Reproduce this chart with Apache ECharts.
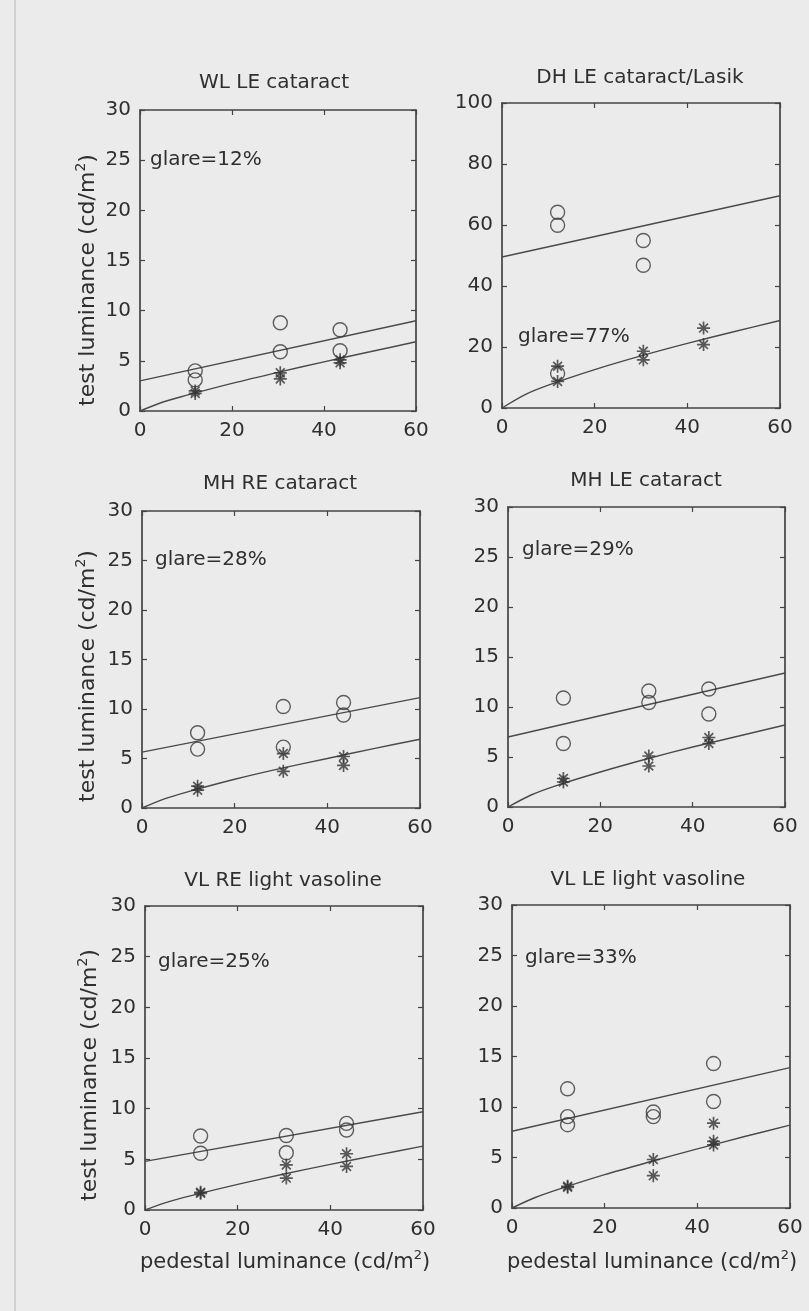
<!DOCTYPE html>
<html>
<head>
<meta charset="utf-8">
<script src="https://cdn.jsdelivr.net/npm/echarts@6/dist/echarts.min.js"></script>
<style>
html,body{margin:0;padding:0;background:#ebebeb;}
#chart{width:809px;height:1311px;}
</style>
</head>
<body>
<div id="chart"></div>
<script>
// ---------- data ----------
const panelTitles = ['WL LE cataract', 'DH LE cataract/Lasik', 'MH RE cataract', 'MH LE cataract', 'VL RE light vasoline', 'VL LE light vasoline'];
const glareLabels = ['glare=12%', 'glare=77%', 'glare=28%', 'glare=29%', 'glare=25%', 'glare=33%'];
const xTicks = [0, 20, 40, 60];
const yMax = [30, 100, 30, 30, 30, 30];
const yStep = [5, 20, 5, 5, 5, 5];

const fitX = [0, 5, 10, 20, 30, 40, 50, 60];
const lineX = [0, 60];

// circles: with glare ; stars: without glare
const wlCircles = [[12, 4.0], [12, 3.1], [30.5, 8.8], [30.5, 5.9], [43.5, 8.1], [43.5, 6.0]];
const wlStars = [[12, 1.75], [12, 2.0], [30.5, 3.8], [30.5, 3.2], [43.5, 5.1], [43.5, 4.8]];
const wlGlareFit = [3.0, 9.0];
const wlFit = [0, 0.9, 1.55, 2.75, 3.85, 4.9, 5.9, 6.9];

const dhCircles = [[12, 64.2], [12, 59.9], [30.5, 54.9], [30.5, 46.8], [12, 11.3]];
const dhStars = [[12, 13.7], [12, 8.7], [30.5, 18.6], [30.5, 15.8], [43.5, 26.2], [43.5, 20.8]];
const dhGlareFit = [49.5, 69.6];
const dhFit = [0, 4.4, 7.5, 12.6, 17.1, 21.2, 25.0, 28.7];

const mhReCircles = [[12, 7.6], [12, 5.95], [30.5, 10.25], [30.5, 6.15], [43.5, 10.65], [43.5, 9.4]];
const mhReStars = [[12, 2.2], [12, 1.8], [30.5, 5.5], [30.5, 3.7], [43.5, 5.2], [43.5, 4.3]];
const mhReGlareFit = [5.65, 11.15];
const mhReFit = [0, 0.95, 1.65, 2.9, 4.0, 5.0, 6.0, 6.95];

const mhLeCircles = [[12, 10.9], [12, 6.35], [30.5, 11.6], [30.5, 10.45], [43.5, 11.8], [43.5, 9.3]];
const mhLeStars = [[12, 2.85], [12, 2.5], [30.5, 5.1], [30.5, 4.1], [43.5, 6.95], [43.5, 6.35]];
const mhLeGlareFit = [7.0, 13.4];
const mhLeFit = [0, 1.2, 2.07, 3.5, 4.8, 6.0, 7.1, 8.2];

const vlReCircles = [[12, 7.3], [12, 5.6], [30.5, 7.35], [30.5, 5.65], [43.5, 8.55], [43.5, 7.9]];
const vlReStars = [[12, 1.65], [12, 1.75], [30.5, 4.45], [30.5, 3.15], [43.5, 5.55], [43.5, 4.3]];
const vlReGlareFit = [4.8, 9.7];
const vlReFit = [0, 0.8, 1.42, 2.53, 3.55, 4.5, 5.42, 6.3];

const vlLeCircles = [[12, 11.8], [12, 9.05], [12, 8.25], [30.5, 9.5], [30.5, 9.05], [43.5, 14.3], [43.5, 10.55]];
const vlLeStars = [[12, 2.05], [12, 2.15], [30.5, 4.8], [30.5, 3.2], [43.5, 8.4], [43.5, 6.6], [43.5, 6.25]];
const vlLeGlareFit = [7.6, 13.9];
const vlLeFit = [0, 1.04, 1.85, 3.3, 4.6, 5.85, 7.05, 8.2];

const circlesAll = [wlCircles, dhCircles, mhReCircles, mhLeCircles, vlReCircles, vlLeCircles];
const starsAll = [wlStars, dhStars, mhReStars, mhLeStars, vlReStars, vlLeStars];
const glareFitAll = [wlGlareFit, dhGlareFit, mhReGlareFit, mhLeGlareFit, vlReGlareFit, vlLeGlareFit];
const fitAll = [wlFit, dhFit, mhReFit, mhLeFit, vlReFit, vlLeFit];

// ---------- layout ----------
const grids = [
  {left: 140, top: 110, width: 276, height: 301},
  {left: 502, top: 103, width: 278, height: 305},
  {left: 142, top: 511, width: 278, height: 297},
  {left: 508, top: 507, width: 277, height: 300},
  {left: 145, top: 906, width: 278, height: 304},
  {left: 512, top: 905, width: 278, height: 303}
];
const titlePos = [[274, 83], [640, 78], [280, 484], [646, 481], [283, 881], [648, 880]];
const glarePos = [[150, 160], [518, 337], [155, 560], [522, 550], [158, 962], [525, 958]];

const FONT = '"DejaVu Sans", "Liberation Sans", Arial, sans-serif';
const TXT = '#2f2f2f';
const LINE = '#444';

const xAxes = [], yAxes = [], series = [], graphics = [];
grids.forEach((g, i) => {
  const axisLine = {show: true, onZero: false, lineStyle: {color: LINE, width: 1.7}};
  const tick = {show: true, inside: true, length: 5, lineStyle: {color: LINE, width: 1.2}};
  const lab = {show: true, color: TXT, fontSize: 20, fontFamily: FONT, margin: 10};
  xAxes.push({type: 'value', gridIndex: i, position: 'bottom', min: 0, max: 60, interval: 20,
    axisLine, axisTick: tick, axisLabel: lab, splitLine: {show: false}});
  xAxes.push({type: 'value', gridIndex: i, position: 'top', min: 0, max: 60, interval: 20,
    axisLine, axisTick: tick, axisLabel: {show: false}, splitLine: {show: false}});
  yAxes.push({type: 'value', gridIndex: i, position: 'left', min: 0, max: yMax[i], interval: yStep[i],
    axisLine, axisTick: tick, axisLabel: Object.assign({}, lab, {margin: 9}), splitLine: {show: false}});
  yAxes.push({type: 'value', gridIndex: i, position: 'right', min: 0, max: yMax[i], interval: yStep[i],
    axisLine, axisTick: tick, axisLabel: {show: false}, splitLine: {show: false}});

  series.push({type: 'line', xAxisIndex: 2 * i, yAxisIndex: 2 * i, showSymbol: false, silent: true,
    data: lineX.map((x, k) => [x, glareFitAll[i][k]]), lineStyle: {color: '#4a4a4a', width: 1.4}, z: 2});
  series.push({type: 'line', xAxisIndex: 2 * i, yAxisIndex: 2 * i, showSymbol: false, silent: true, smooth: 0.3,
    data: fitX.map((x, k) => [x, fitAll[i][k]]), lineStyle: {color: '#4a4a4a', width: 1.4}, z: 2});
  series.push({type: 'scatter', xAxisIndex: 2 * i, yAxisIndex: 2 * i, symbol: 'circle', symbolSize: 14,
    data: circlesAll[i], itemStyle: {color: 'rgba(0,0,0,0)', borderColor: '#3a3a3a', borderWidth: 1.4}, z: 3});
  series.push({type: 'scatter', xAxisIndex: 2 * i, yAxisIndex: 2 * i,
    symbol: 'path://M0,5L10,5M5,0L5,10M1.6,1.6L8.4,8.4M8.4,1.6L1.6,8.4', symbolSize: 13,
    data: starsAll[i], itemStyle: {color: 'rgba(0,0,0,0)', borderColor: '#333', borderWidth: 1.7}, z: 4});

  graphics.push({type: 'text', x: titlePos[i][0], y: titlePos[i][1],
    style: {text: panelTitles[i], fill: TXT, font: '20px ' + FONT, textAlign: 'center', textVerticalAlign: 'middle'}});
  graphics.push({type: 'text', x: glarePos[i][0], y: glarePos[i][1],
    style: {text: glareLabels[i], fill: TXT, font: '20px ' + FONT, textAlign: 'left', textVerticalAlign: 'middle'}});
});

const richX = {
  a: {fontSize: 21, fontFamily: FONT, fill: TXT, color: TXT, lineHeight: 28},
  s: {fontSize: 13, fontFamily: FONT, fill: TXT, color: TXT, verticalAlign: 'top', lineHeight: 28}
};
const richY = {
  a: {fontSize: 22, fontFamily: FONT, fill: TXT, color: TXT, lineHeight: 28},
  s: {fontSize: 14, fontFamily: FONT, fill: TXT, color: TXT, verticalAlign: 'top', lineHeight: 28}
};
[[88, 280], [88, 676], [90, 1075]].forEach(p => {
  graphics.push({type: 'text', x: p[0], y: p[1], rotation: Math.PI / 2,
    style: {text: '{a|test luminance (cd/m}{s|2}{a|)}', rich: richY, fill: TXT, textAlign: 'center', textVerticalAlign: 'middle'}});
});
[[285, 1263], [652, 1263]].forEach(p => {
  graphics.push({type: 'text', x: p[0], y: p[1],
    style: {text: '{a|pedestal luminance (cd/m}{s|2}{a|)}', rich: richX, fill: TXT, textAlign: 'center', textVerticalAlign: 'middle'}});
});
// faint scan border on left
graphics.push({type: 'line', shape: {x1: 15, y1: 0, x2: 15, y2: 1311}, style: {stroke: '#c8c8c8', lineWidth: 1.5}});

const chart = echarts.init(document.getElementById('chart'), null, {renderer: 'canvas'});
chart.setOption({
  backgroundColor: '#ebebeb',
  animation: false,
  grid: grids,
  xAxis: xAxes,
  yAxis: yAxes,
  series: series,
  graphic: graphics
});
</script>
</body>
</html>
